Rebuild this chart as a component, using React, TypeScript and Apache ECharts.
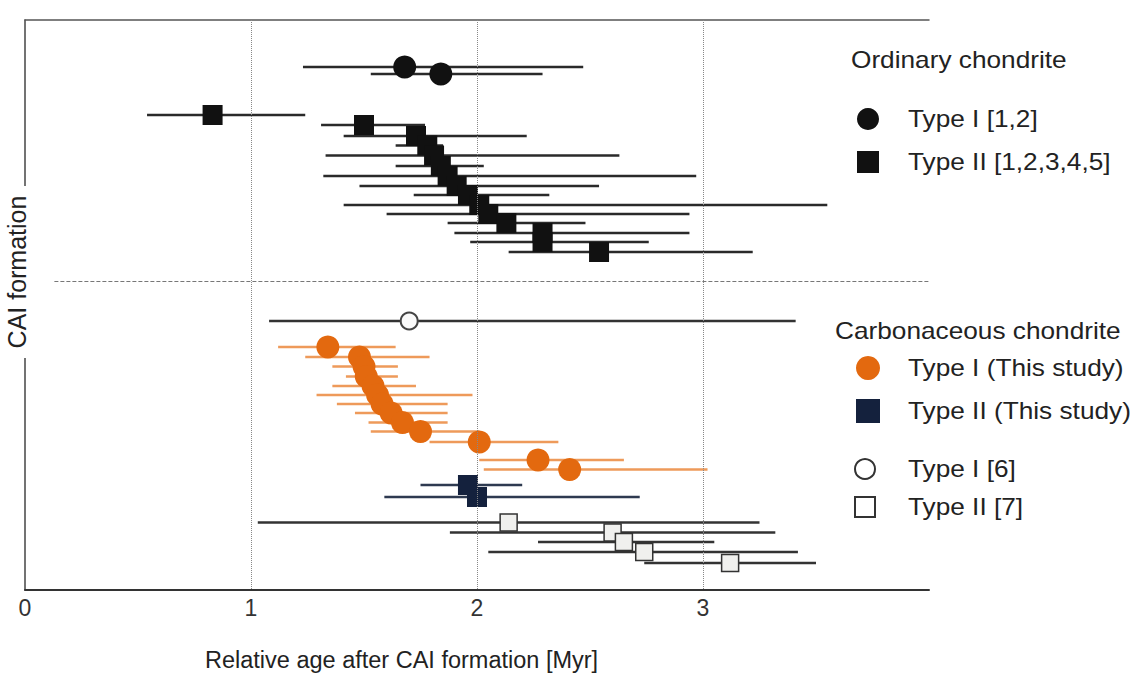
import React, { useEffect, useRef } from "react";
import * as echarts from "echarts";

// [center, low, high, row]  (row: vertical ordering position, top = 0)
const ocType1: number[][] = [
  [1.68, 1.23, 2.47, 4.7],
  [1.84, 1.53, 2.29, 5.4],
];
const ocType2: number[][] = [
  [0.83, 0.54, 1.24, 9.5],
  [1.5, 1.31, 1.77, 10.5],
  [1.73, 1.41, 2.22, 11.6],
  [1.78, 1.64, 1.85, 12.55],
  [1.81, 1.33, 2.63, 13.55],
  [1.84, 1.64, 2.03, 14.6],
  [1.87, 1.32, 2.97, 15.6],
  [1.91, 1.48, 2.54, 16.6],
  [1.96, 1.72, 2.32, 17.5],
  [2.01, 1.41, 3.55, 18.5],
  [2.05, 1.6, 2.94, 19.4],
  [2.13, 1.87, 2.48, 20.3],
  [2.29, 1.9, 2.94, 21.3],
  [2.29, 1.97, 2.76, 22.2],
  [2.54, 2.14, 3.22, 23.2],
];
const ccType1Ref: number[][] = [[1.7, 1.08, 3.41, 30.1]];
const ccType1Study: number[][] = [
  [1.34, 1.12, 1.64, 32.7],
  [1.48, 1.24, 1.79, 33.7],
  [1.5, 1.36, 1.65, 34.65],
  [1.51, 1.42, 1.65, 35.65],
  [1.54, 1.36, 1.73, 36.6],
  [1.56, 1.29, 1.98, 37.5],
  [1.58, 1.38, 1.87, 38.4],
  [1.62, 1.46, 1.87, 39.3],
  [1.67, 1.52, 1.87, 40.25],
  [1.75, 1.53, 2.01, 41.15],
  [2.01, 1.79, 2.36, 42.2],
  [2.27, 2.01, 2.65, 44.0],
  [2.41, 2.03, 3.02, 44.95],
];
const ccType2Study: number[][] = [
  [1.96, 1.75, 2.2, 46.5],
  [2.0, 1.59, 2.72, 47.7],
];
const ccType2Ref: number[][] = [
  [2.14, 1.03, 3.25, 50.25],
  [2.6, 1.88, 3.32, 51.25],
  [2.65, 2.27, 3.05, 52.2],
  [2.74, 2.05, 3.42, 53.2],
  [3.12, 2.74, 3.5, 54.3],
];
const xTickLabels = ["0", "1", "2", "3"];
const gridValues = [1, 2, 3];
const separatorRow = 26.1;
const separatorStart = 0.13;

const FONT = "Liberation Sans, Arial, Helvetica, sans-serif";

function errorSeries(name: string, data: number[][], color: string) {
  return {
    type: "custom",
    name: name + "-err",
    silent: true,
    z: 1,
    data: data.map((d) => [d[1], d[2], d[3]]),
    encode: { x: [0, 1], y: 2 },
    renderItem: (_p: any, api: any) => {
      const y = api.value(2);
      const a = api.coord([api.value(0), y]);
      const b = api.coord([api.value(1), y]);
      return {
        type: "line",
        shape: { x1: a[0], y1: a[1], x2: b[0], y2: b[1] },
        style: { stroke: color, lineWidth: 2.6 },
      };
    },
  };
}

function markerSeries(name: string, data: number[][], symbol: string, size: number, itemStyle: any) {
  return {
    type: "scatter",
    name,
    z: 3,
    symbol,
    symbolSize: size,
    itemStyle: { opacity: 1, ...itemStyle },
    data: data.map((d) => [d[0], d[3]]),
  };
}

export default function App() {
  const ref = useRef<HTMLDivElement>(null);
  useEffect(() => {
    document.body.style.margin = "0";
    const chart = echarts.init(ref.current!, null, { renderer: "svg" });
    const legendText = (t: string, x: number, y: number) => ({
      type: "text",
      x,
      y,
      scaleX: 1.14,
      style: { text: t, fontSize: 23, fontFamily: FONT, fill: "#222", verticalAlign: "middle" },
    });
    chart.setOption({
      animation: false,
      backgroundColor: "#fff",
      grid: { left: 25, right: 213, top: 20, bottom: 90 },
      xAxis: [
        {
          type: "value",
          min: 0,
          max: 4,
          interval: 1,
          axisLine: { show: true, onZero: false, lineStyle: { color: "#333", width: 2 } },
          axisTick: { show: false },
          splitLine: { show: false },
          axisLabel: {
            fontSize: 23,
            fontFamily: FONT,
            color: "#333",
            margin: 6,
            formatter: (v: number) => xTickLabels[v] ?? "",
          },
        },
        {
          type: "value",
          position: "top",
          min: 0,
          max: 4,
          interval: 1,
          axisLine: { show: true, onZero: false, lineStyle: { color: "#555", width: 1.5 } },
          axisTick: { show: false },
          axisLabel: { show: false },
          splitLine: { show: false },
        },
      ],
      yAxis: {
        type: "value",
        min: 0,
        max: 57,
        inverse: true,
        axisLine: { show: true, onZero: false, lineStyle: { color: "#444", width: 1.5 } },
        axisTick: { show: false },
        axisLabel: { show: false },
        splitLine: { show: false },
      },
      series: [
        {
          type: "scatter",
          data: [],
          markLine: {
            silent: true,
            symbol: "none",
            label: { show: false },
            lineStyle: { type: "dotted", color: "#888", width: 1 },
            data: gridValues.map((v) => ({ xAxis: v })),
          },
        },
        {
          type: "scatter",
          data: [],
          markLine: {
            silent: true,
            symbol: "none",
            label: { show: false },
            lineStyle: { type: "dashed", color: "#777", width: 1 },
            data: [[{ coord: [separatorStart, separatorRow] }, { coord: [4, separatorRow] }]],
          },
        },
        errorSeries("ocType1", ocType1, "#2a2a2a"),
        errorSeries("ocType2", ocType2, "#2a2a2a"),
        errorSeries("ccType1Ref", ccType1Ref, "#333"),
        errorSeries("ccType1Study", ccType1Study, "#ee9a5a"),
        errorSeries("ccType2Study", ccType2Study, "#2e3a50"),
        errorSeries("ccType2Ref", ccType2Ref, "#333"),
        markerSeries("Type I [1,2]", ocType1, "circle", 23, { color: "#111" }),
        markerSeries("Type II [1,2,3,4,5]", ocType2, "rect", 20, { color: "#111" }),
        markerSeries("Type I [6]", ccType1Ref, "circle", 17, { color: "#fafafa", borderColor: "#444", borderWidth: 2 }),
        markerSeries("Type I (This study)", ccType1Study, "circle", 23, { color: "#e3690f" }),
        markerSeries("Type II (This study)", ccType2Study, "rect", 20, { color: "#14213d" }),
        markerSeries("Type II [7]", ccType2Ref, "rect", 17, { color: "#f0f0ee", borderColor: "#333", borderWidth: 1.5 }),
      ],
      graphic: [
        { type: "rect", shape: { x: 2, y: 186, width: 34, height: 172 }, style: { fill: "#fff" }, z: 50 },
        {
          type: "text",
          x: 17,
          y: 272,
          rotation: Math.PI / 2,
          z: 51,
          style: {
            text: "CAI formation",
            fontSize: 25,
            fontFamily: FONT,
            fill: "#222",
            align: "center",
            verticalAlign: "middle",
          },
        },
        {
          type: "text",
          x: 205,
          y: 660,
          style: {
            text: "Relative age after CAI formation [Myr]",
            fontSize: 23.5,
            fontFamily: FONT,
            fill: "#222",
            verticalAlign: "middle",
          },
        },
        legendText("Ordinary chondrite", 851, 60),
        { type: "circle", shape: { cx: 868, cy: 119, r: 11 }, style: { fill: "#111" } },
        legendText("Type I [1,2]", 908, 119),
        { type: "rect", shape: { x: 857, y: 151, width: 22, height: 22 }, style: { fill: "#111" } },
        legendText("Type II [1,2,3,4,5]", 908, 162),
        legendText("Carbonaceous chondrite", 835, 331),
        { type: "circle", shape: { cx: 868, cy: 368, r: 12 }, style: { fill: "#e3690f" } },
        legendText("Type I (This study)", 908, 368),
        { type: "rect", shape: { x: 856, y: 399, width: 24, height: 24 }, style: { fill: "#14213d" } },
        legendText("Type II (This study)", 908, 411),
        { type: "circle", shape: { cx: 865, cy: 469, r: 10 }, style: { fill: "#fff", stroke: "#333", lineWidth: 2 } },
        legendText("Type I [6]", 908, 469),
        { type: "rect", shape: { x: 855, y: 497, width: 20, height: 20 }, style: { fill: "#fff", stroke: "#333", lineWidth: 2 } },
        legendText("Type II [7]", 908, 507),
      ],
    });
    return () => chart.dispose();
  }, []);
  return <div ref={ref} style={{ width: 1142, height: 680 }} />;
}
